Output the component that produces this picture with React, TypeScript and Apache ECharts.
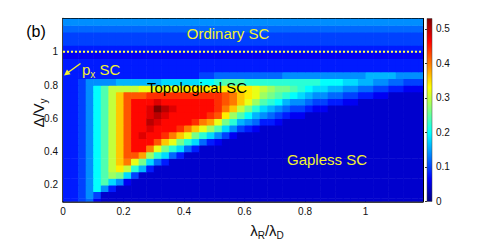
import React, { useEffect, useRef } from 'react';
import * as echarts from 'echarts';

// ---------- data ----------
// axis ranges
const X_MIN = 0;
const X_MAX = 1.19;
const Y_MIN = 0.1;
const Y_MAX = 1.2;
const GAP_MAX = 0.53;
const xTicks = [0, 0.2, 0.4, 0.6, 0.8, 1];
const yTicks = [0.2, 0.4, 0.6, 0.8, 1];
const cbTicks = [0, 0.1, 0.2, 0.3, 0.4, 0.5];
const phaseBoundaryY = 1;

// sample grid: 48 columns of width 0.025 starting at x = 0, rows of height 0.04
const X_STEP = 0.025;
const Y_STEP = 0.04;
const rowYs = [0.10, 0.14, 0.18, 0.22, 0.26, 0.30, 0.34, 0.38, 0.42, 0.46, 0.50, 0.54, 0.58, 0.62,
  0.66, 0.70, 0.74, 0.78, 0.82, 0.86, 0.90, 0.94, 0.98, 1.02, 1.06, 1.10, 1.14, 1.18];

// gap values in hundredths, run-length encoded per row as [value, count] (48 columns each)
const gapY010 = [[8, 2], [10, 1], [12, 1], [6, 1], [4, 43]];
const gapY014 = [[8, 2], [10, 1], [14, 1], [10, 1], [4, 43]];
const gapY018 = [[8, 2], [10, 1], [14, 1], [20, 1], [14, 1], [8, 1], [4, 41]];
const gapY022 = [[8, 2], [10, 1], [14, 1], [20, 1], [24, 1], [18, 1], [14, 1], [6, 1], [4, 39]];
const gapY026 = [[8, 2], [10, 1], [14, 1], [20, 1], [24, 1], [28, 1], [26, 1], [18, 1], [10, 1], [4, 38]];
const gapY030 = [[8, 2], [10, 1], [14, 1], [20, 1], [24, 1], [30, 1], [34, 1], [30, 1], [22, 1], [16, 1], [8, 1], [4, 36]];
const gapY034 = [[8, 2], [10, 1], [14, 1], [20, 1], [24, 1], [30, 1], [36, 1], [40, 1], [32, 1], [26, 1], [18, 1], [12, 1], [8, 1], [4, 34]];
const gapY038 = [[8, 2], [10, 1], [14, 1], [20, 1], [24, 1], [30, 1], [36, 1], [42, 2], [38, 1], [28, 1], [22, 1], [18, 1], [12, 1], [8, 1], [4, 32]];
const gapY042 = [[8, 2], [10, 1], [14, 1], [20, 1], [24, 1], [30, 1], [36, 1], [42, 1], [46, 2], [40, 1], [32, 1], [26, 1], [22, 1], [18, 1], [12, 1], [8, 1], [4, 30]];
const gapY046 = [[8, 2], [10, 1], [14, 1], [20, 1], [24, 1], [30, 1], [36, 1], [42, 1], [46, 3], [42, 1], [36, 1], [32, 1], [26, 1], [22, 1], [18, 1], [12, 1], [8, 1], [6, 1], [4, 27]];
const gapY050 = [[8, 2], [10, 1], [14, 1], [20, 1], [24, 1], [30, 1], [36, 1], [42, 1], [46, 1], [48, 1], [46, 2], [44, 1], [40, 1], [36, 1], [32, 1], [26, 1], [22, 1], [18, 1], [14, 1], [10, 1], [6, 1], [4, 25]];
const gapY054 = [[8, 2], [10, 1], [14, 1], [20, 1], [24, 1], [30, 1], [36, 1], [42, 1], [46, 2], [48, 1], [46, 3], [44, 1], [40, 1], [36, 1], [32, 1], [28, 1], [24, 1], [18, 1], [14, 1], [10, 1], [8, 1], [6, 1], [4, 22]];
const gapY058 = [[8, 2], [10, 1], [14, 1], [20, 1], [24, 1], [30, 1], [36, 1], [42, 1], [46, 2], [50, 1], [48, 1], [46, 4], [44, 1], [40, 1], [38, 1], [32, 1], [26, 1], [22, 1], [16, 1], [14, 1], [12, 1], [8, 2], [6, 1], [4, 19]];
const gapY062 = [[8, 2], [10, 1], [14, 1], [20, 1], [24, 1], [30, 1], [36, 1], [42, 1], [46, 2], [48, 1], [50, 1], [48, 1], [46, 5], [44, 1], [42, 1], [34, 1], [28, 1], [24, 1], [20, 1], [16, 1], [14, 1], [12, 1], [10, 1], [8, 1], [6, 2], [4, 16]];
const gapY066 = [[8, 2], [10, 1], [14, 1], [20, 1], [24, 1], [30, 1], [36, 1], [42, 1], [46, 2], [48, 1], [53, 1], [50, 1], [48, 1], [46, 5], [44, 1], [40, 1], [36, 1], [30, 1], [26, 1], [22, 1], [18, 1], [16, 1], [14, 1], [12, 1], [10, 2], [8, 1], [6, 2], [4, 13]];
const gapY070 = [[8, 2], [10, 1], [14, 1], [20, 1], [24, 1], [30, 1], [36, 1], [42, 1], [46, 3], [48, 1], [46, 7], [44, 1], [42, 1], [40, 1], [36, 1], [32, 1], [28, 1], [24, 1], [22, 1], [20, 1], [16, 1], [14, 2], [12, 1], [10, 2], [8, 2], [6, 2], [4, 9]];
const gapY074 = [[8, 2], [10, 1], [14, 1], [20, 1], [24, 1], [30, 1], [36, 1], [42, 3], [44, 10], [42, 1], [40, 1], [36, 1], [34, 1], [32, 1], [28, 1], [26, 1], [24, 1], [22, 1], [20, 1], [18, 1], [16, 1], [14, 2], [12, 2], [10, 2], [8, 2], [6, 2], [4, 5]];
const gapY078 = [[8, 2], [10, 1], [14, 1], [20, 1], [24, 1], [30, 4], [32, 6], [34, 9], [32, 1], [30, 1], [28, 1], [26, 2], [24, 1], [22, 1], [20, 1], [18, 2], [16, 2], [14, 2], [12, 2], [10, 2], [8, 2], [6, 3]];
const gapY082 = [[8, 2], [10, 1], [14, 4], [16, 6], [18, 5], [20, 2], [22, 1], [24, 3], [22, 10], [20, 3], [18, 2], [16, 2], [14, 2], [12, 2], [10, 3]];
const gapY086 = [[8, 18], [10, 2], [12, 9], [14, 11], [16, 4], [14, 4]];
const gapY090 = [[8, 48]];
const gapY094 = [[8, 48]];
const gapY098 = [[6, 48]];
const gapY102 = [[8, 48]];
const gapY106 = [[10, 48]];
const gapY110 = [[10, 48]];
const gapY114 = [[12, 48]];
const gapY118 = [[14, 48]];

const gapRows = [gapY010, gapY014, gapY018, gapY022, gapY026, gapY030, gapY034, gapY038, gapY042,
  gapY046, gapY050, gapY054, gapY058, gapY062, gapY066, gapY070, gapY074, gapY078, gapY082, gapY086,
  gapY090, gapY094, gapY098, gapY102, gapY106, gapY110, gapY114, gapY118];

// ---------- styling ----------
const FONT = '"Liberation Sans", Arial, Helvetica, sans-serif';
const JET = ['#000080', '#0000ff', '#0080ff', '#00ffff', '#80ff80', '#ffff00', '#ff8000', '#ff0000', '#800000'];
const YELLOW = '#f2f230';

function buildCells(): number[][] {
  const cells: number[][] = [];
  gapRows.forEach((runs, j) => {
    let i = 0;
    runs.forEach(([v, n]) => {
      for (let k = 0; k < n; k++) {
        cells.push([(i + 0.5) * X_STEP, rowYs[j], v / 100]);
        i++;
      }
    });
  });
  return cells;
}

export default function App() {
  const ref = useRef<HTMLDivElement>(null);

  useEffect(() => {
    if (!ref.current) return;
    const chart = echarts.init(ref.current, undefined, { renderer: 'svg' });
    const cells = buildCells();

    const axisLineStyle = { color: '#000', width: 1.5 };
    const labelStyle = { color: '#111', fontSize: 10, fontFamily: FONT };

    const option: any = {
      animation: false,
      grid: [
        { left: 63, top: 18.5, width: 360, height: 183 },
        { left: 427, top: 18.5, width: 5, height: 183 },
      ],
      visualMap: {
        type: 'continuous',
        show: false,
        min: 0,
        max: GAP_MAX,
        dimension: 2,
        seriesIndex: 0,
        inRange: { color: JET },
      },
      xAxis: [
        {
          gridIndex: 0, type: 'value', min: X_MIN, max: X_MAX, interval: 0.2, position: 'bottom',
          axisLine: { show: true, onZero: false, lineStyle: axisLineStyle },
          axisTick: { show: true, inside: true, length: 3, customValues: xTicks, lineStyle: { color: '#000' } },
          axisLabel: { ...labelStyle, customValues: xTicks, margin: 5 },
          splitLine: { show: false },
        },
        {
          gridIndex: 0, type: 'value', min: X_MIN, max: X_MAX, interval: 0.2, position: 'top',
          axisLine: { show: true, onZero: false, lineStyle: { color: '#000', width: 1 } },
          axisTick: { show: true, inside: true, length: 3, customValues: xTicks, lineStyle: { color: '#000' } },
          axisLabel: { show: false },
          splitLine: { show: false },
        },
        { gridIndex: 1, type: 'value', min: 0, max: 1, show: false },
      ],
      yAxis: [
        {
          gridIndex: 0, type: 'value', min: Y_MIN, max: Y_MAX, position: 'left',
          axisLine: { show: true, onZero: false, lineStyle: axisLineStyle },
          axisTick: { show: true, inside: true, length: 3, customValues: yTicks, lineStyle: { color: '#000' } },
          axisLabel: { ...labelStyle, customValues: yTicks, margin: 5 },
          splitLine: { show: false },
        },
        {
          gridIndex: 0, type: 'value', min: Y_MIN, max: Y_MAX, position: 'right',
          axisLine: { show: true, onZero: false, lineStyle: { color: '#000', width: 1 } },
          axisTick: { show: true, inside: true, length: 3, customValues: yTicks, lineStyle: { color: '#000' } },
          axisLabel: { show: false },
          splitLine: { show: false },
        },
        {
          gridIndex: 1, type: 'value', min: 0, max: GAP_MAX, interval: 0.1, position: 'right',
          axisLine: { show: false },
          axisTick: { show: true, inside: true, length: 2, customValues: cbTicks, lineStyle: { color: '#333' } },
          axisLabel: { ...labelStyle, customValues: cbTicks, margin: 4 },
          splitLine: { show: false },
        },
      ],
      series: [
        {
          type: 'custom',
          xAxisIndex: 0,
          yAxisIndex: 0,
          clip: true,
          encode: { x: 0, y: 1 },
          data: cells,
          renderItem: (params: any, api: any) => {
            const x = api.value(0);
            const y = api.value(1);
            const a = api.coord([x - X_STEP / 2, y + Y_STEP / 2]);
            const b = api.coord([x + X_STEP / 2, y - Y_STEP / 2]);
            return {
              type: 'rect',
              shape: { x: a[0], y: a[1], width: b[0] - a[0] + 0.6, height: b[1] - a[1] + 0.6 },
              style: { fill: api.visual('color') },
            };
          },
        },
        {
          type: 'line',
          xAxisIndex: 0,
          yAxisIndex: 0,
          symbol: 'none',
          silent: true,
          z: 5,
          data: [[X_MIN, phaseBoundaryY], [X_MAX, phaseBoundaryY]],
          lineStyle: { color: '#ffff50', width: 2, type: [2, 2] },
        },
      ],
      graphic: [
        {
          type: 'rect', z: 10,
          shape: { x: 427, y: 18.5, width: 5, height: 183 },
          style: {
            fill: new echarts.graphic.LinearGradient(0, 1, 0, 0,
              JET.map((c, i) => ({ offset: i / (JET.length - 1), color: c }))),
            stroke: '#444', lineWidth: 0.5,
          },
        },
        { type: 'text', z: 100, x: 36, y: 31, style: { text: '(b)', fill: '#000', fontSize: 16, fontFamily: FONT, textAlign: 'center', textVerticalAlign: 'middle' } },
        { type: 'text', z: 100, x: 228, y: 33, style: { text: 'Ordinary SC', fill: YELLOW, fontSize: 15, fontFamily: FONT, textAlign: 'center', textVerticalAlign: 'middle' } },
        { type: 'text', z: 100, x: 197, y: 87, style: { text: 'Topological SC', fill: '#000', fontSize: 15, fontFamily: FONT, textAlign: 'center', textVerticalAlign: 'middle' } },
        { type: 'text', z: 100, x: 327, y: 159, style: { text: 'Gapless SC', fill: YELLOW, fontSize: 15, fontFamily: FONT, textAlign: 'center', textVerticalAlign: 'middle' } },
        {
          type: 'text', z: 100, x: 82, y: 69,
          style: {
            text: '{m|p}{s|x}{m| SC}', fill: YELLOW, fontFamily: FONT, textAlign: 'left', textVerticalAlign: 'middle',
            rich: {
              m: { fontSize: 15, lineHeight: 20, verticalAlign: 'middle', fill: YELLOW, fontFamily: FONT },
              s: { fontSize: 10, lineHeight: 10, verticalAlign: 'bottom', fill: YELLOW, fontFamily: FONT },
            },
          },
        },
        { type: 'line', z: 100, shape: { x1: 80.5, y1: 63.5, x2: 68, y2: 72.5 }, style: { stroke: YELLOW, lineWidth: 1.5 } },
        { type: 'polygon', z: 100, shape: { points: [[64, 75.5], [70.6, 74.3], [67, 69.5]] }, style: { fill: YELLOW } },
        {
          type: 'text', z: 100, x: 267, y: 230,
          style: {
            text: '{m|λ}{s|R}{m|/λ}{s|D}', fill: '#111', fontFamily: FONT, textAlign: 'center', textVerticalAlign: 'middle',
            rich: {
              m: { fontSize: 15, lineHeight: 20, verticalAlign: 'middle', fill: '#111', fontFamily: FONT },
              s: { fontSize: 10, lineHeight: 10, verticalAlign: 'bottom', fill: '#111', fontFamily: FONT },
            },
          },
        },
        {
          type: 'text', z: 100, x: 38, y: 113, rotation: Math.PI / 2,
          style: {
            text: '{m|Δ/V}{s|y}', fill: '#111', fontFamily: FONT, textAlign: 'center', textVerticalAlign: 'middle',
            rich: {
              m: { fontSize: 15, lineHeight: 20, verticalAlign: 'middle', fill: '#111', fontFamily: FONT },
              s: { fontSize: 10, lineHeight: 10, verticalAlign: 'bottom', fill: '#111', fontFamily: FONT },
            },
          },
        },
      ],
    };

    chart.setOption(option);
    return () => chart.dispose();
  }, []);

  return (
    <div
      ref={ref}
      style={{ position: 'fixed', left: 0, top: 0, width: 485, height: 244, background: '#fff' }}
    />
  );
}
